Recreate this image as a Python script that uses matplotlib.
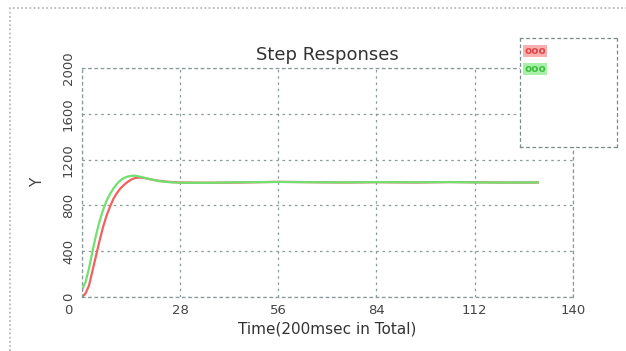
import matplotlib
matplotlib.use("Agg")
import matplotlib.pyplot as plt
from matplotlib.patches import Rectangle
import matplotlib.transforms as mtrans

# Data
t_red = [0, 1, 2, 3, 4, 5, 6, 7, 8, 9, 10, 11, 12, 13, 14, 15, 16, 17, 18, 20, 22, 25, 28, 35, 45, 56, 65, 75, 84, 95, 105, 112, 120, 130]
y_red = [0, 30, 100, 230, 360, 490, 610, 710, 790, 860, 910, 950, 980, 1005, 1025, 1038, 1043, 1042, 1038, 1025, 1015, 1005, 1000, 998, 1000, 1006, 1003, 1000, 1003, 1000, 1004, 1002, 1000, 1000]
t_green = [0, 1, 2, 3, 4, 5, 6, 7, 8, 9, 10, 11, 12, 13, 14, 15, 16, 17, 18, 20, 22, 25, 28, 35, 45, 56, 65, 75, 84, 95, 105, 112, 120, 130]
y_green = [60, 130, 250, 400, 540, 660, 760, 840, 900, 950, 990, 1020, 1040, 1052, 1058, 1060, 1055, 1048, 1040, 1025, 1012, 1003, 998, 997, 1002, 1005, 1003, 1001, 1004, 1002, 1004, 1001, 1000, 1001]
x_ticks = [0, 28, 56, 84, 112, 140]
y_ticks = [0, 400, 800, 1200, 1600, 2000]
legend_labels = ["ooo", "ooo"]

fig = plt.figure(figsize=(6.26, 3.51), dpi=100)
fig.patch.set_facecolor("white")

# outer dotted frame (left and top edges visible)
fig.patches.append(Rectangle((0.016, -0.02), 1.0, 0.997, transform=fig.transFigure,
                             fill=False, ls=(0, (1, 1.5)), lw=1.2, ec="#b0b0b0"))

ax = fig.add_axes([0.131, 0.154, 0.784, 0.652])
ax.plot(t_red, y_red, color="#f26060", lw=1.6)
ax.plot(t_green, y_green, color="#70e070", lw=1.6)
ax.set_xlim(0, 140)
ax.set_ylim(0, 2000)
ax.set_xticks(x_ticks)
ax.set_yticks(y_ticks)
ax.set_xticklabels([str(v) for v in x_ticks], fontsize=9.5, color="#444444")
ax.set_yticklabels([str(v) for v in y_ticks], fontsize=9.5, color="#444444", rotation=90, va="center")
ax.tick_params(length=0, pad=5)
# first x label sits left of the axis corner in the reference
lbl0 = ax.get_xticklabels()[0]
lbl0.set_transform(lbl0.get_transform() + mtrans.ScaledTranslation(-0.14, 0, fig.dpi_scale_trans))
ax.grid(True, ls=(0, (2, 3)), color="#8a9a9a", lw=0.9)
for s in ax.spines.values():
    s.set_linestyle((0, (2, 3)))
    s.set_color("#8a9a9a")
    s.set_linewidth(0.9)
ax.set_title("Step Responses", fontsize=13, color="#333333", pad=6)
ax.set_xlabel("Time(200msec in Total)", fontsize=11, color="#333333", labelpad=3)
ax.set_ylabel("Y", fontsize=11, color="#444444", labelpad=12)

# legend box
lax = fig.add_axes([0.831, 0.581, 0.155, 0.311])
lax.set_xticks([])
lax.set_yticks([])
lax.set_facecolor("white")
for s in lax.spines.values():
    s.set_linestyle((0, (2, 3)))
    s.set_color("#7a8a8a")
    s.set_linewidth(0.9)
lax.text(0.04, 0.93, legend_labels[0], color="#e04848", fontsize=7.5, fontweight="bold",
         transform=lax.transAxes, va="top", ha="left",
         bbox=dict(boxstyle="square,pad=0.1", fc="#f8b0b0", ec="none"))
lax.text(0.04, 0.76, legend_labels[1], color="#40c040", fontsize=7.5, fontweight="bold",
         transform=lax.transAxes, va="top", ha="left",
         bbox=dict(boxstyle="square,pad=0.1", fc="#a8f0a8", ec="none"))

fig.savefig("out.png", dpi=100)
